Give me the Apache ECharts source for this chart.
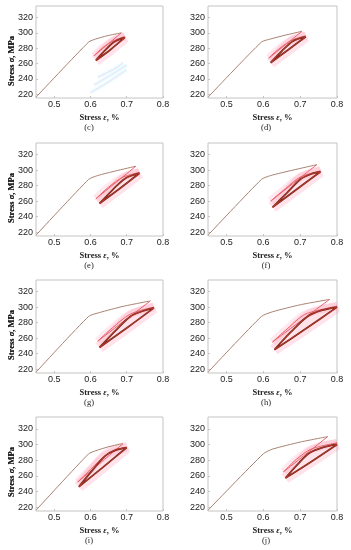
<!DOCTYPE html>
<html><head><meta charset="utf-8">
<script src="https://cdn.jsdelivr.net/npm/echarts@6/dist/echarts.min.js"></script>
<style>html,body{margin:0;padding:0;background:#fff}#c{width:351px;height:550px}</style>
</head><body><div id="c"></div>
<script>
const xTickValues = [0.5, 0.6, 0.7, 0.8];
const yTickValues = [220, 240, 260, 280, 300, 320];
const panelLabels = ['(c)', '(d)', '(e)', '(f)', '(g)', '(h)', '(i)', '(j)'];

// main loading curves
const loadC = [[0.45,216],[0.595,288],[0.615,292],[0.645,296],[0.685,300]];
const loadD = [[0.45,216],[0.595,288],[0.62,292],[0.66,297],[0.705,302]];
const loadE = [[0.45,216],[0.595,288],[0.62,293],[0.67,299],[0.725,305]];
const loadF = [[0.45,216],[0.595,288],[0.62,293],[0.68,300],[0.745,307]];
const loadG = [[0.45,216],[0.595,288],[0.625,293],[0.69,301],[0.765,308]];
const loadH = [[0.45,216],[0.595,288],[0.625,294],[0.7,303],[0.78,310]];
const loadI = [[0.45,216],[0.595,288],[0.615,292],[0.65,297],[0.69,301]];
const loadJ = [[0.45,216],[0.6,288],[0.625,294],[0.7,303],[0.775,310]];

// thin red unloading / reloading paths
const redC = [[0.685,300],[0.61,270],[0.635,281],[0.665,290],[0.695,295]];
const redD = [[0.705,302],[0.615,267],[0.645,280],[0.68,291],[0.715,296]];
const redE = [[0.725,305],[0.615,263],[0.65,278],[0.69,291],[0.735,297]];
const redF = [[0.745,307],[0.62,260],[0.66,276],[0.7,291],[0.755,299]];
const redG = [[0.765,308],[0.62,256],[0.66,273],[0.71,291],[0.775,300]];
const redH = [[0.78,310],[0.625,255],[0.665,272],[0.715,291],[0.8,301]];
const redI = [[0.69,301],[0.565,252],[0.6,268],[0.645,287],[0.7,296]];
const redJ = [[0.775,310],[0.655,265],[0.69,281],[0.73,294],[0.8,302]];

// thick dark hysteresis loops
const loopC = [[0.615,264],[0.64,277],[0.665,288],[0.695,294],[0.655,278],[0.615,264]];
const loopD = [[0.62,261],[0.65,276],[0.68,289],[0.715,295],[0.665,277],[0.62,261]];
const loopE = [[0.625,257],[0.66,274],[0.695,289],[0.735,296],[0.68,276],[0.625,257]];
const loopF = [[0.625,252],[0.665,271],[0.7,288],[0.73,295],[0.755,298],[0.69,275],[0.625,252]];
const loopG = [[0.625,248],[0.67,270],[0.71,288],[0.745,295],[0.775,299],[0.7,273],[0.625,248]];
const loopH = [[0.63,245],[0.675,268],[0.72,288],[0.76,296],[0.8,300],[0.715,272],[0.63,245]];
const loopI = [[0.568,246],[0.6,264],[0.64,285],[0.67,293],[0.7,296],[0.635,271],[0.568,246]];
const loopJ = [[0.66,257],[0.69,273],[0.725,289],[0.76,296],[0.8,300],[0.73,278],[0.66,257]];

// faint artefact traces in panel (c)
const ghostC1 = [[0.6,222],[0.65,236],[0.7,252]];
const ghostC2 = [[0.61,232],[0.66,246],[0.7,258]];
const ghostC3 = [[0.62,242],[0.67,254],[0.69,261]];

const loads = [loadC, loadD, loadE, loadF, loadG, loadH, loadI, loadJ];
const reds = [redC, redD, redE, redF, redG, redH, redI, redJ];
const loops = [loopC, loopD, loopE, loopF, loopG, loopH, loopI, loopJ];

const colLeft = [36, 208], colWidth = [127, 129];
const rowTop = [6, 143, 280, 417], rowHeight = [92, 93, 93, 94];
const labelX = [89, 266];

const grids = [], xAxes = [], yAxes = [], series = [], graphics = [];
const serif = '"Liberation Serif", "DejaVu Serif", serif';
const sans = '"Liberation Sans", Arial, sans-serif';
for (let p = 0; p < 8; p++) {
  const col = p % 2, row = Math.floor(p / 2);
  const L = colLeft[col], W = colWidth[col], T = rowTop[row], H = rowHeight[row];
  grids.push({left: L, top: T, width: W, height: H, show: true, borderColor: '#c4c4c4', borderWidth: 1});
  xAxes.push({type: 'value', gridIndex: p, min: 0.45, max: 0.8,
    axisLine: {show: false}, splitLine: {show: false},
    axisTick: {show: true, inside: true, length: 2, lineStyle: {color: '#c4c4c4'}, customValues: xTickValues},
    axisLabel: {customValues: xTickValues, margin: 2, fontSize: 9, color: '#222', fontFamily: sans,
      formatter: v => v.toFixed(1)}});
  yAxes.push({type: 'value', gridIndex: p, min: 215, max: 335,
    axisLine: {show: false}, splitLine: {show: false},
    axisTick: {show: true, inside: true, length: 2, lineStyle: {color: '#c4c4c4'}, customValues: yTickValues},
    axisLabel: {customValues: yTickValues, margin: 3, fontSize: 9, color: '#222', fontFamily: sans}});
  const base = {type: 'line', xAxisIndex: p, yAxisIndex: p, symbol: 'none', silent: true, smooth: 0.3};
  series.push(Object.assign({}, base, {data: loops[p], lineStyle: {width: 11, color: 'rgba(255,110,150,0.2)'}}));
  series.push(Object.assign({}, base, {data: reds[p].slice(1), lineStyle: {width: 8, color: 'rgba(255,110,150,0.16)'}}));
  series.push(Object.assign({}, base, {data: loads[p], smooth: 0.2, lineStyle: {width: 1, color: '#a88272'}}));
  series.push(Object.assign({}, base, {data: reds[p], lineStyle: {width: 1, color: '#e8606a'}}));
  series.push(Object.assign({}, base, {data: loops[p], lineStyle: {width: 1.8, color: '#6e2a1a'}}));
  series.push(Object.assign({}, base, {data: loops[p], lineStyle: {width: 0.7, color: '#e03a30'}}));
  if (p === 0) {
    [ghostC1, ghostC2, ghostC3].forEach(g => {
      series.push(Object.assign({}, base, {data: g, lineStyle: {width: 4, color: 'rgba(210,252,255,0.45)'}}));
      series.push(Object.assign({}, base, {data: g, lineStyle: {width: 0.8, color: 'rgba(255,150,220,0.45)'}}));
    });
  }
  graphics.push({type: 'text', x: 12, y: T + 55, rotation: Math.PI / 2,
    style: {text: '{a|Stress }{b|σ}{a|, MPa}', align: 'center', verticalAlign: 'middle',
      rich: {a: {fontFamily: serif, fontWeight: 'bold', fontSize: 8.5, fill: '#222'},
             b: {fontFamily: serif, fontWeight: 'bold', fontStyle: 'italic', fontSize: 8.5, fill: '#222'}}}});
  graphics.push({type: 'text', x: L + W / 2, y: T + H + 20,
    style: {text: '{a|Stress }{b|ε}{a|, %}', align: 'center', verticalAlign: 'middle',
      rich: {a: {fontFamily: serif, fontWeight: 'bold', fontSize: 8.5, fill: '#222'},
             b: {fontFamily: serif, fontWeight: 'bold', fontStyle: 'italic', fontSize: 8.5, fill: '#222'}}}});
  graphics.push({type: 'text', x: labelX[col], y: T + H + 30,
    style: {text: panelLabels[p], align: 'center', verticalAlign: 'middle', fontFamily: serif, fontSize: 8.5, fill: '#222'}});
}
const chart = echarts.init(document.getElementById('c'), null, {renderer: 'canvas'});
chart.setOption({animation: false, backgroundColor: '#fff', grid: grids, xAxis: xAxes, yAxis: yAxes, series: series, graphic: graphics});
</script></body></html>
